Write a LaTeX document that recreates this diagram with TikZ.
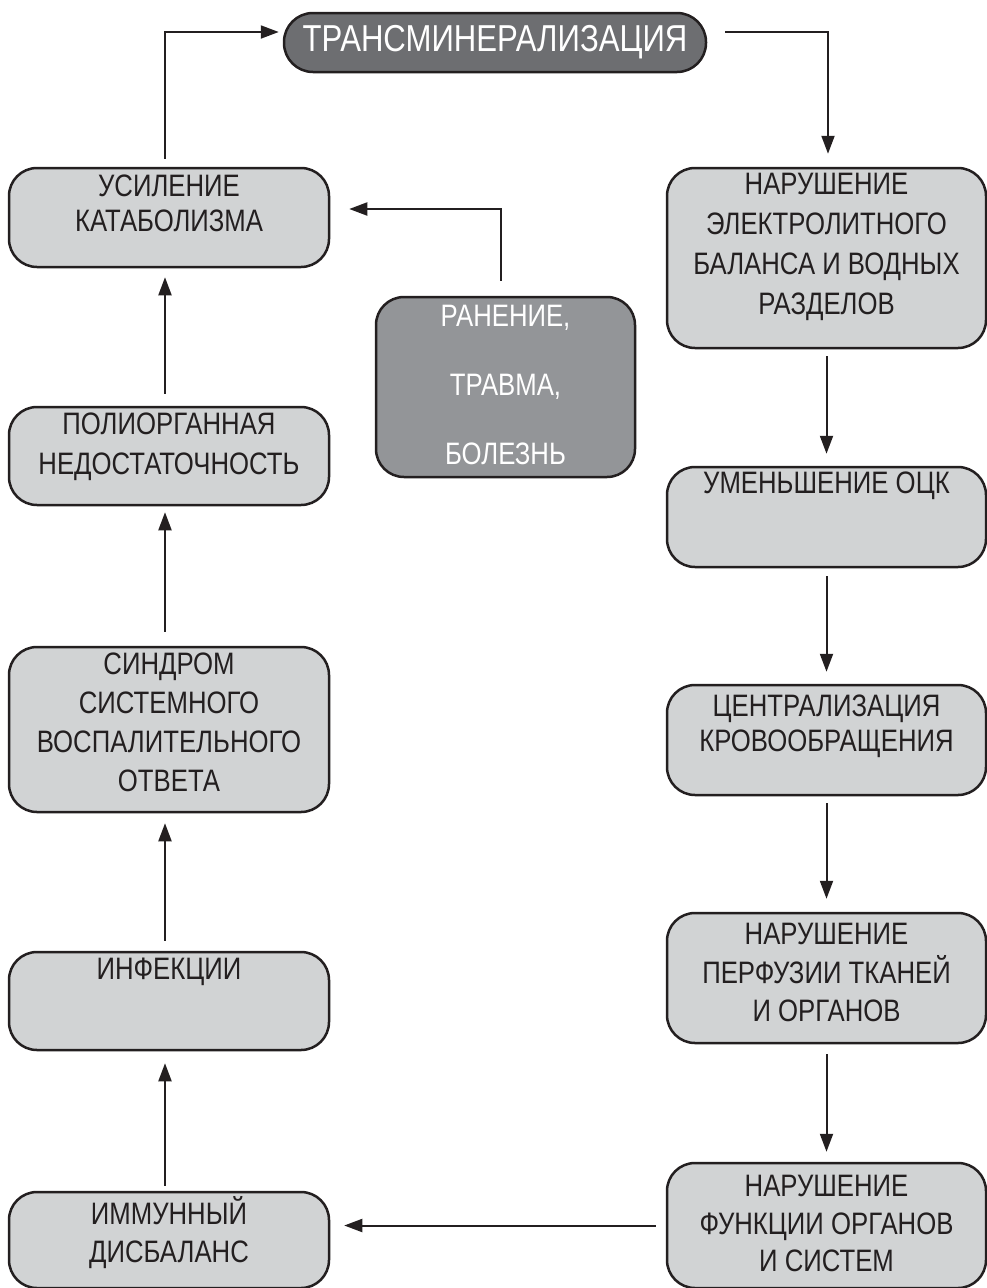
\documentclass[tikz,border=0pt]{standalone}
\usepackage{fontspec}
\setmainfont{Liberation Sans}[FakeStretch=0.83]
\usetikzlibrary{arrows.meta}
\definecolor{ink}{HTML}{231F20}
\definecolor{lightbox}{HTML}{D1D3D4}
\definecolor{midbox}{HTML}{939598}
\definecolor{darkbox}{HTML}{6D6E71}
\begin{document}
\begin{tikzpicture}[x=1pt,y=-1pt,
  box/.style={draw=ink, line width=2.5pt, fill=lightbox, rounded corners=28pt, inner sep=0pt},
  txt/.style={font=\fontsize{31}{38}\selectfont, align=center, anchor=north, inner sep=0pt, text=ink},
  conn/.style={draw=ink, line width=2pt, -{Triangle[length=18pt,width=13pt]}}]
\useasboundingbox (0,0) rectangle (987,1288);
% title
\node[box, fill=darkbox, rounded corners=29pt, minimum width=422pt, minimum height=59pt,
      text=white, font=\fontsize{37.5}{40}\selectfont] (title) at (495,42.5) {ТРАНСМИНЕРАЛИЗАЦИЯ};
% left column
\node[box, minimum width=320pt, minimum height=99pt] (usil) at (169,217.5) {};
\node[txt, font=\fontsize{31}{35}\selectfont] (usilT) at (169,175) {УСИЛЕНИЕ\\КАТАБОЛИЗМА};
\node[box, minimum width=320pt, minimum height=98pt] (poly) at (169,456) {};
\node[txt, font=\fontsize{31}{40}\selectfont] (polyT) at (169,413) {ПОЛИОРГАННАЯ\\НЕДОСТАТОЧНОСТЬ};
\node[box, minimum width=320pt, minimum height=165pt] (sind) at (169,729.5) {};
\node[txt, font=\fontsize{31}{39}\selectfont] (sindT) at (169,653) {СИНДРОМ\\СИСТЕМНОГО\\ВОСПАЛИТЕЛЬНОГО\\ОТВЕТА};
\node[box, minimum width=320pt, minimum height=98pt] (inf) at (169,1001) {};
\node[txt] (infT) at (169,958) {ИНФЕКЦИИ};
\node[box, minimum width=320pt, minimum height=96pt] (imm) at (169,1240) {};
\node[txt] (immT) at (169,1196) {ИММУННЫЙ\\ДИСБАЛАНС};
% middle
\node[box, fill=midbox, minimum width=259pt, minimum height=180pt] (ran) at (505.5,387) {};
\node[txt, text=white, font=\fontsize{31}{69}\selectfont] (ranT) at (505.5,305) {РАНЕНИЕ,\\ТРАВМА,\\БОЛЕЗНЬ};
% right column
\node[box, minimum width=319pt, minimum height=180pt] (elec) at (826.5,258) {};
\node[txt, font=\fontsize{31}{40}\selectfont] (elecT) at (826.5,173) {НАРУШЕНИЕ\\ЭЛЕКТРОЛИТНОГО\\БАЛАНСА И ВОДНЫХ\\РАЗДЕЛОВ};
\node[box, minimum width=319pt, minimum height=100pt] (umen) at (826.5,517) {};
\node[txt] (umenT) at (826.5,472) {УМЕНЬШЕНИЕ ОЦК};
\node[box, minimum width=319pt, minimum height=110pt] (centr) at (826.5,740) {};
\node[txt, font=\fontsize{31}{35}\selectfont] (centrT) at (826.5,695) {ЦЕНТРАЛИЗАЦИЯ\\КРОВООБРАЩЕНИЯ};
\node[box, minimum width=319pt, minimum height=130pt] (perf) at (826.5,978) {};
\node[txt, font=\fontsize{31}{38.5}\selectfont] (perfT) at (826.5,923) {НАРУШЕНИЕ\\ПЕРФУЗИИ ТКАНЕЙ\\И ОРГАНОВ};
\node[box, minimum width=319pt, minimum height=125pt] (func) at (826.5,1225.5) {};
\node[txt, font=\fontsize{31}{37.5}\selectfont] (funcT) at (826.5,1175) {НАРУШЕНИЕ\\ФУНКЦИИ ОРГАНОВ\\И СИСТЕМ};
% connectors
\draw[conn, shorten <=8pt, shorten >=4pt] ([xshift=-4pt]usil.north) |- ([yshift=10.5pt]title.west);
\draw[conn, shorten <=18pt, shorten >=13pt] ([yshift=10.5pt]title.east) -| ([xshift=1.5pt]elec.north);
\draw[conn, shorten <=15pt, shorten >=19pt] ([xshift=-4.5pt]ran.north) |- ([yshift=8.5pt]usil.east);
\draw[conn, shorten <=7pt, shorten >=12pt] (elec.south) -- (umen.north);
\draw[conn, shorten <=8pt, shorten >=12pt] (umen.south) -- (centr.north);
\draw[conn, shorten <=7pt, shorten >=13pt] (centr.south) -- (perf.north);
\draw[conn, shorten <=10pt, shorten >=10pt] (perf.south) -- (func.north);
\draw[conn, shorten <=10pt, shorten >=14pt] (func.west) -- (func.west -| imm.east);
\draw[conn, shorten <=5pt, shorten >=12pt] ([xshift=-4pt]imm.north) -- ([xshift=-4pt]inf.south);
\draw[conn, shorten <=10pt, shorten >=10pt] ([xshift=-4pt]inf.north) -- ([xshift=-4pt]sind.south);
\draw[conn, shorten <=14pt, shorten >=6pt] ([xshift=-4pt]sind.north) -- ([xshift=-4pt]poly.south);
\draw[conn, shorten <=12pt, shorten >=9pt] ([xshift=-4pt]poly.north) -- ([xshift=-4pt]usil.south);
\end{tikzpicture}
\end{document}
